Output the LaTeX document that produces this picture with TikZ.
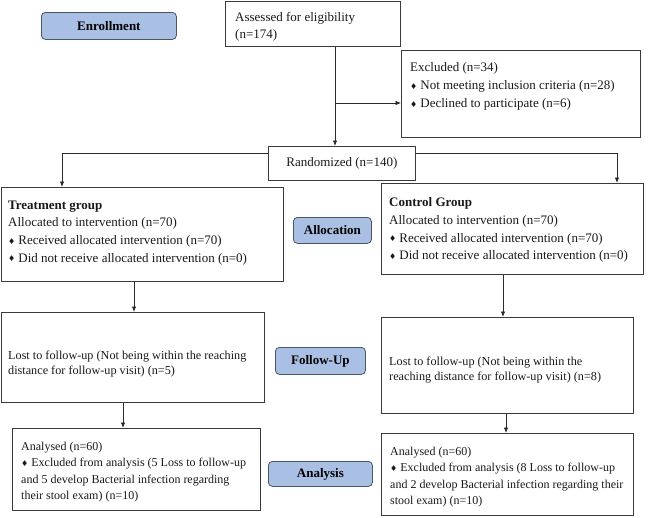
\documentclass[tikz,border=0pt]{standalone}
\usepackage{fontspec}
\setmainfont{Liberation Serif}
\newfontfamily\dejavu{DejaVu Sans}
\usetikzlibrary{arrows.meta}
\definecolor{boxc}{HTML}{3A3A3A}
\definecolor{linec}{HTML}{2A2A2A}
\definecolor{labfill}{HTML}{A9C0E4}
\definecolor{labdraw}{HTML}{4A5568}
\newcommand{\dmd}{{\dejavu\fontsize{8}{8}\selectfont\raisebox{0.5pt}{♦}}\hspace{3pt}}
\tikzset{
  box/.style={draw=boxc, line width=0.8pt, inner sep=0pt, anchor=north west},
  lab/.style={draw=labdraw, fill=labfill, rounded corners=4pt, line width=0.8pt,
    font=\fontsize{13}{15}\selectfont\bfseries, inner sep=0pt, anchor=north west},
  txt/.style={anchor=north west, inner sep=0pt, align=left, text=black!90},
  big/.style={font=\fontsize{13}{17.7}\selectfont},
  mid/.style={font=\fontsize{12.2}{15}\selectfont},
  sml/.style={font=\fontsize{12}{16.5}\selectfont},
  arr/.style={draw=linec, line width=0.8pt, -{Latex[length=5.5pt,width=4.5pt]}}
}
\begin{document}
\begin{tikzpicture}[x=1pt, y=-1pt]
\useasboundingbox (0,0) rectangle (648,517);
% phase labels
\node[lab, minimum width=135pt, minimum height=27pt] (lenrol) at (41,12) {Enrollment};
\node[lab, minimum width=78pt, minimum height=26pt] (lalloc) at (293,217) {Allocation};
\node[lab, minimum width=90pt, minimum height=27pt] (lfollow) at (275,347) {Follow-Up};
\node[lab, minimum width=104pt, minimum height=25pt] (lanal) at (268,461) {Analysis};
% boxes
\node[box, minimum width=175pt, minimum height=45.5pt] (assess) at (225,0.5) {};
\node[box, minimum width=239pt, minimum height=87pt] (excl) at (401,50) {};
\node[box, minimum width=147pt, minimum height=34pt] (rand) at (268,146) {};
\node[box, minimum width=282pt, minimum height=94pt] (treat) at (0.5,187) {};
\node[box, minimum width=262pt, minimum height=91pt] (ctrl) at (381,183) {};
\node[box, minimum width=263.5pt, minimum height=90pt] (followT) at (0.5,312) {};
\node[box, minimum width=252pt, minimum height=96pt] (followC) at (381,317) {};
\node[box, minimum width=248pt, minimum height=82pt] (analT) at (12,428) {};
\node[box, minimum width=252pt, minimum height=82pt] (analC) at (381,433) {};
% texts
\node[txt, font=\fontsize{13}{17}\selectfont] (tassess) at (235,12.5) {Assessed for eligibility\\(n=174)};
\node[txt, font=\fontsize{13}{18}\selectfont] (texcl) at (410,62.5) {Excluded (n=34)\\\dmd Not meeting inclusion criteria (n=28)\\\dmd Declined to participate (n=6)};
\node[txt, big] (trand) at (rand.center) [anchor=center] {Randomized (n=140)};
\node[txt, big] (ttreat) at (8,200.5) {\textbf{Treatment group}\\Allocated to intervention (n=70)\\\dmd Received allocated intervention (n=70)\\\dmd Did not receive allocated intervention (n=0)};
\node[txt, big] (tctrl) at (389,197.5) {\textbf{Control Group}\\Allocated to intervention (n=70)\\\dmd Received allocated intervention (n=70)\\\dmd Did not receive allocated intervention (n=0)};
\node[txt, mid] (tfollowT) at (8,351) {Lost to follow-up (Not being within the reaching\\distance for follow-up visit) (n=5)};
\node[txt, mid] (tfollowC) at (389,357) {Lost to follow-up (Not being within the\\reaching distance for follow-up visit) (n=8)};
\node[txt, sml] (tanalT) at (21,441.5) {Analysed (n=60)\\\dmd Excluded from analysis (5 Loss to follow-up\\and 5 develop Bacterial infection regarding\\their stool exam) (n=10)};
\node[txt, sml] (tanalC) at (390,446.5) {Analysed (n=60)\\\dmd Excluded from analysis (8 Loss to follow-up\\and 2 develop Bacterial infection regarding their\\stool exam) (n=10)};
% connectors
\draw[arr] (335,0 |- assess.south) -- (335,0 |- rand.north);
\draw[arr] (335,103) -- (excl.west |- 0,103);
\draw[arr] (rand.west |- 0,153) -| (62,0 |- treat.north);
\draw[arr] (rand.east |- 0,153) -| (617,0 |- ctrl.north);
\draw[arr] (134,0 |- treat.south) -- (134,0 |- followT.north);
\draw[arr] (503,0 |- ctrl.south) -- (503,0 |- followC.north);
\draw[arr] (123,0 |- followT.south) -- (123,0 |- analT.north);
\draw[arr] (506,0 |- followC.south) -- (506,0 |- analC.north);
\end{tikzpicture}
\end{document}
